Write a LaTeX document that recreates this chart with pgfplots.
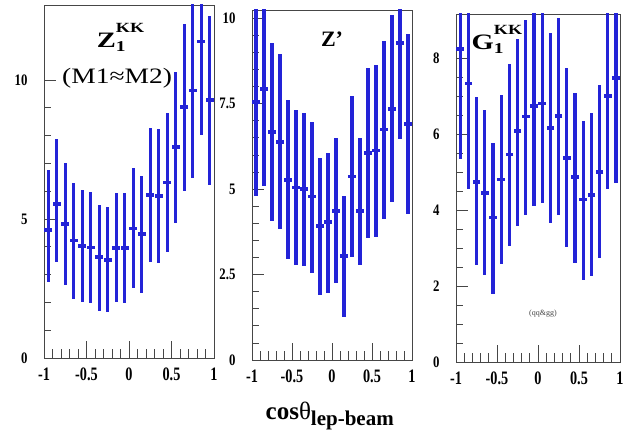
\documentclass[border=0pt]{standalone}
\usepackage{pgfplots}
\pgfplotsset{compat=1.18}
\usepackage{pgfplotstable}
\usepackage{graphicx}
\usepackage{fontspec}
\setmainfont{Liberation Serif}
\definecolor{barblue}{RGB}{35,35,215}
\definecolor{axgray}{RGB}{70,70,70}

\pgfplotstableread{
x y top bot
-0.95 4.61 6.77 2.75
-0.85 5.54 7.87 3.47
-0.75 4.83 7.03 2.61
-0.65 4.23 6.29 2.12
-0.55 4.04 6.05 2.00
-0.45 3.98 5.96 1.98
-0.35 3.63 5.51 1.68
-0.25 3.53 5.43 1.65
-0.15 3.95 5.93 2.00
-0.05 3.95 5.95 1.98
0.05 4.66 6.83 2.51
0.15 4.47 6.56 2.34
0.25 5.87 8.29 3.47
0.35 5.83 8.24 3.41
0.45 6.31 8.80 3.83
0.55 7.60 10.30 4.87
0.65 9.02 12.00 6.02
0.75 9.62 12.80 6.47
0.85 11.38 14.50 8.02
0.95 9.28 12.30 6.23
}\dataA

\pgfplotstableread{
x y top bot
-0.95 7.55 10.50 4.80
-0.85 7.92 10.80 5.08
-0.75 6.67 9.26 4.07
-0.65 6.37 8.94 3.84
-0.55 5.26 7.60 2.96
-0.45 5.05 7.32 2.77
-0.35 5.00 7.24 2.75
-0.25 4.78 6.96 2.55
-0.15 3.92 5.90 1.91
-0.05 4.04 6.06 1.96
0.05 4.36 6.49 2.25
0.15 3.04 4.80 1.27
0.25 5.37 7.73 3.02
0.35 4.36 6.49 2.79
0.45 6.06 8.55 3.58
0.55 6.13 8.63 3.61
0.65 6.74 9.33 4.12
0.75 7.35 10.10 4.63
0.85 9.28 12.10 6.47
0.95 6.91 9.53 4.26
}\dataB

\pgfplotstableread{
x y top bot
-0.95 8.24 11.10 5.34
-0.85 7.34 10.10 4.57
-0.75 4.75 6.97 2.55
-0.65 4.46 6.64 2.29
-0.55 3.81 5.78 1.80
-0.45 4.81 7.04 2.58
-0.35 5.47 7.85 3.05
-0.25 6.09 8.50 3.58
-0.15 6.47 9.00 3.87
-0.05 6.75 9.40 4.11
0.05 6.81 9.40 4.20
0.15 6.16 8.66 3.67
0.25 6.48 9.06 3.87
0.35 5.37 7.74 3.02
0.45 4.87 7.10 2.61
0.55 4.28 6.36 2.17
0.65 4.40 6.55 2.26
0.75 5.01 7.30 2.74
0.85 7.01 9.50 4.57
0.95 7.48 10.30 4.72
}\dataC

\newcommand{\xl}[1]{\scalebox{0.75}[1]{\textbf{#1}}}
\newcommand{\yl}[1]{\scalebox{0.8}[1]{\textbf{#1}}}
% stacked sub/superscript title: base, subscript, superscript
\newcommand{\KK}[3]{\scalebox{1.3}[1]{#1\rlap{\raisebox{-4pt}{\fontsize{15}{15}\selectfont #2}}\raisebox{15pt}{\fontsize{14}{14}\selectfont #3}}}

\pgfplotsset{
 rootstyle/.style={
  scale only axis, anchor=south west,
  xmin=-1, xmax=1,
  axis line style={axgray, line width=0.8pt},
  xtick={-1,-0.5,0,0.5,1},
  xticklabels={\xl{-1},\xl{-0.5},\xl{0},\xl{0.5},\xl{1}},
  minor x tick num=4,
  xtick pos=bottom, ytick pos=left,
  tick align=inside,
  tick style={axgray, line width=0.7pt},
  xtick style={/pgfplots/major tick length=17pt,/pgfplots/minor tick length=9pt},
  ytick style={/pgfplots/major tick length=12pt,/pgfplots/minor tick length=7pt},
  xticklabel style={font=\bfseries\fontsize{19}{19}\selectfont, yshift=-6pt},
  yticklabel style={font=\bfseries\fontsize{16}{16}\selectfont, anchor=east, xshift=-13pt},
 },
 databars/.style={only marks, mark=-, mark size=3.8pt, color=barblue,
  mark options={line width=3.6pt, barblue},
  error bars/y dir=both, error bars/y explicit, error bars/error mark=none,
  error bars/error bar style={line width=3.2pt, barblue}},
}

\begin{document}
\begin{tikzpicture}
\path[use as bounding box] (0,0) rectangle (630pt,439pt);

\begin{axis}[rootstyle, at={(44pt,81pt)}, width=170pt, height=353pt,
  ymin=0, ymax=12.7, ytick={0,5,10}, yticklabels={\yl{0},\yl{5},\yl{10}}, minor y tick num=4]
\addplot[databars] table[x=x, y=y, y error plus expr=\thisrow{top}-\thisrow{y}, y error minus expr=\thisrow{y}-\thisrow{bot}] \dataA;
\node[font=\bfseries\fontsize{22}{22}\selectfont] at (axis cs:-0.1,11.55) {\KK{Z}{1}{KK}};
\node[font=\fontsize{22}{22}\selectfont] at (axis cs:-0.14,10.05) {\scalebox{1.25}[1]{(M1≈M2)}};
\end{axis}

\begin{axis}[rootstyle, at={(252pt,79pt)}, width=160pt, height=350pt,
  ymin=0, ymax=10.24, ytick={0,2.5,5,7.5,10}, yticklabels={\yl{0},\yl{2.5},\yl{5},\yl{7.5},\yl{10}}, minor y tick num=4]
\addplot[databars] table[x=x, y=y, y error plus expr=\thisrow{top}-\thisrow{y}, y error minus expr=\thisrow{y}-\thisrow{bot}] \dataB;
\node[font=\bfseries\fontsize{22}{22}\selectfont] at (axis cs:0.0,9.4) {Z’};
\end{axis}

\begin{axis}[rootstyle, at={(456pt,77pt)}, width=164pt, height=348pt,
  ymin=0, ymax=9.17, ytick={0,2,4,6,8}, yticklabels={\yl{0},\yl{2},\yl{4},\yl{6},\yl{8}}, minor y tick num=3]
\addplot[databars] table[x=x, y=y, y error plus expr=\thisrow{top}-\thisrow{y}, y error minus expr=\thisrow{y}-\thisrow{bot}] \dataC;
\node[font=\bfseries\fontsize{22}{22}\selectfont] at (axis cs:-0.5,8.5) {\KK{G}{1}{KK}};
\node[font=\fontsize{8}{8}\selectfont, text=axgray] at (axis cs:0.06,1.28) {(qq\&gg)};
\end{axis}

\node[anchor=base] at (330pt,19pt) {\fontsize{25}{25}\selectfont\bfseries cos\mdseries θ\textsubscript{\bfseries\fontsize{21}{21}\selectfont lep-beam}};
\end{tikzpicture}
\end{document}
